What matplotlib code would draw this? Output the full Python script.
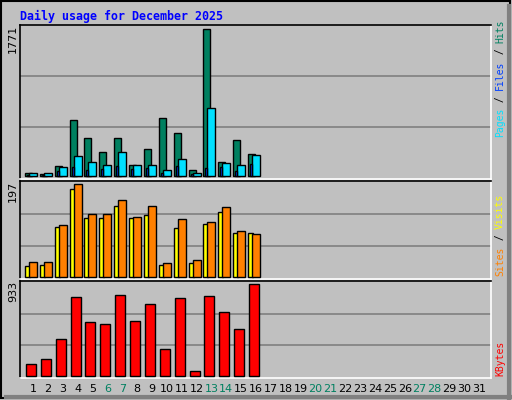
import matplotlib
matplotlib.use("Agg")
import matplotlib.pyplot as plt
from matplotlib.patches import Rectangle
import numpy as np

days = np.arange(1, 17)
hits = [42, 30, 120, 675, 458, 290, 458, 133, 325, 700, 518, 72, 1771, 169, 434, 265]
files = [36, 36, 108, 241, 169, 133, 290, 133, 133, 72, 205, 36, 820, 157, 133, 253]
pages = [12, 12, 60, 108, 72, 84, 120, 84, 96, 36, 120, 24, 96, 108, 60, 145]
sites = [22, 26, 106, 187, 125, 125, 151, 125, 131, 26, 103, 29, 112, 138, 93, 93]
visits = [31, 31, 110, 197, 134, 134, 164, 127, 151, 29, 123, 35, 116, 149, 97, 90]
kbytes = [116, 167, 372, 800, 545, 525, 821, 556, 729, 270, 791, 45, 811, 648, 474, 933]
weekend = [6, 7, 13, 14, 20, 21, 27, 28]

W, H = 512, 400
BG = "#C0C0C0"
fig = plt.figure(figsize=(W / 100, H / 100), dpi=100, facecolor=BG)

# outer frame
frame = fig.add_axes([0, 0, 1, 1])
frame.set_xlim(0, W); frame.set_ylim(H, 0); frame.axis("off")
frame.add_patch(Rectangle((1, 1), W - 3, H - 3, fill=False, ec="black", lw=1.5))
frame.plot([6, W - 2], [H - 3, H - 3], color="#808080", lw=3)
frame.plot([W - 3, W - 3], [6, H - 2], color="#808080", lw=3)
frame.text(20, 16, "Daily usage for December 2025", color="#0000FF",
           family="DejaVu Sans Mono", weight="bold", fontsize=8.4, va="center")

PX = 14.87      # pixels per day
X0 = 33         # pixel of day 1
LEFT, RIGHT = 20, 491


def panel(top, bottom, baseline, maxpx, vmax, label):
    ax = fig.add_axes([LEFT / W, 1 - bottom / H, (RIGHT - LEFT) / W, (bottom - top) / H])
    ax.set_facecolor(BG)
    ax.set_xlim(1 + (LEFT - X0) / PX, 1 + (RIGHT - X0) / PX)
    s = vmax / (baseline - maxpx)
    ax.set_ylim(-(bottom - baseline) * s, vmax + (maxpx - top) * s)
    for f in (0.335, 0.68):
        ax.axhline(vmax * f, color="#808080", lw=1.2, zorder=0)
    ax.set_xticks([]); ax.set_yticks([])
    ax.spines["top"].set_color("black"); ax.spines["left"].set_color("black")
    ax.spines["bottom"].set_color("white"); ax.spines["right"].set_color("white")
    for sp in ax.spines.values():
        sp.set_linewidth(1.2)
    fig.text(13 / W, 1 - top / H, label, rotation=90, fontsize=8, ha="center", va="top")
    return ax


def bars(ax, vals, off0, off1, color, z=3):
    w = (off1 - off0) / PX
    ax.bar(days + (off0 + off1) / 2 / PX, vals, width=w, color=color,
           edgecolor="black", linewidth=1, zorder=z)


ax1 = panel(25, 179, 176, 29, max(hits), str(max(hits)))
bars(ax1, hits, -8, -1, "#008060")
bars(ax1, files, -4, 4, "#00E0FF")
bars(ax1, pages, -6, -4, "#0040FF", z=4)

ax2 = panel(181, 279, 276.7, 184.3, max(visits), str(max(visits)))
bars(ax2, sites, -8, -3, "#FFFF00")
bars(ax2, visits, -4, 4, "#FF8000")

ax3 = panel(281, 378, 375.7, 284.3, max(kbytes), str(max(kbytes)))
bars(ax3, kbytes, -7, 3, "#FF0000")

# day labels
for d in range(1, 32):
    fig.text((X0 + (d - 1) * PX) / W, 1 - 389 / H, str(d), fontsize=8,
             ha="center", va="center",
             color="#008060" if d in weekend else "black")


def side(parts, y_bottom):
    y = y_bottom
    for txt, col in parts:
        fig.text(500 / W, 1 - y / H, txt, rotation=90, color=col,
                 fontsize=7, family="DejaVu Sans Mono",
                 ha="center", va="bottom")
        y -= len(txt) * 5.9


side([("Pages", "#00E0FF"), (" / ", "black"), ("Files", "#0040FF"),
      (" / ", "black"), ("Hits", "#008060")], 137)
side([("Sites", "#FF8000"), (" / ", "black"), ("Visits", "#FFFF00")], 276)
side([("KBytes", "#FF0000")], 376)

fig.savefig("out.png", dpi=100, facecolor=BG)
